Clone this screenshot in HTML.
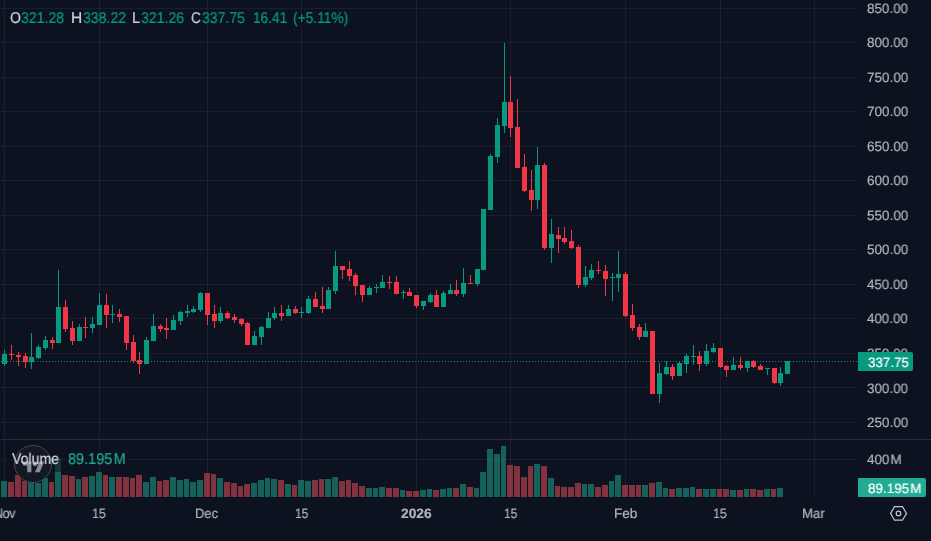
<!DOCTYPE html>
<html><head><meta charset="utf-8"><title>Chart</title>
<style>
html,body{margin:0;padding:0;background:#0d1220;}
body{width:931px;height:541px;overflow:hidden;position:relative;font-family:"Liberation Sans",sans-serif;color:#b2b5be;}
.t{position:absolute;white-space:nowrap;will-change:transform;text-rendering:geometricPrecision;transform-origin:0 0;-webkit-text-stroke:0.2px currentColor;}
</style></head><body>
<svg width="931" height="541" viewBox="0 0 931 541" shape-rendering="crispEdges" style="position:absolute;left:0;top:0">
<rect x="1" y="8" width="857" height="1" fill="rgb(240,243,250)" fill-opacity=".06"/>
<rect x="1" y="42" width="857" height="1" fill="rgb(240,243,250)" fill-opacity=".06"/>
<rect x="1" y="77" width="857" height="1" fill="rgb(240,243,250)" fill-opacity=".06"/>
<rect x="1" y="111" width="857" height="1" fill="rgb(240,243,250)" fill-opacity=".06"/>
<rect x="1" y="146" width="857" height="1" fill="rgb(240,243,250)" fill-opacity=".06"/>
<rect x="1" y="180" width="857" height="1" fill="rgb(240,243,250)" fill-opacity=".06"/>
<rect x="1" y="215" width="857" height="1" fill="rgb(240,243,250)" fill-opacity=".06"/>
<rect x="1" y="249" width="857" height="1" fill="rgb(240,243,250)" fill-opacity=".06"/>
<rect x="1" y="284" width="857" height="1" fill="rgb(240,243,250)" fill-opacity=".06"/>
<rect x="1" y="318" width="857" height="1" fill="rgb(240,243,250)" fill-opacity=".06"/>
<rect x="1" y="353" width="857" height="1" fill="rgb(240,243,250)" fill-opacity=".06"/>
<rect x="1" y="387" width="857" height="1" fill="rgb(240,243,250)" fill-opacity=".06"/>
<rect x="1" y="422" width="857" height="1" fill="rgb(240,243,250)" fill-opacity=".06"/>
<rect x="1" y="459" width="857" height="1" fill="rgb(240,243,250)" fill-opacity=".06"/>
<rect x="4" y="0" width="1" height="497" fill="rgb(240,243,250)" fill-opacity=".06"/>
<rect x="99" y="0" width="1" height="497" fill="rgb(240,243,250)" fill-opacity=".06"/>
<rect x="207" y="0" width="1" height="497" fill="rgb(240,243,250)" fill-opacity=".06"/>
<rect x="301" y="0" width="1" height="497" fill="rgb(240,243,250)" fill-opacity=".06"/>
<rect x="416" y="0" width="1" height="497" fill="rgb(240,243,250)" fill-opacity=".06"/>
<rect x="510" y="0" width="1" height="497" fill="rgb(240,243,250)" fill-opacity=".06"/>
<rect x="625" y="0" width="1" height="497" fill="rgb(240,243,250)" fill-opacity=".06"/>
<rect x="720" y="0" width="1" height="497" fill="rgb(240,243,250)" fill-opacity=".06"/>
<rect x="814" y="0" width="1" height="497" fill="rgb(240,243,250)" fill-opacity=".06"/>
<rect x="1" y="439" width="930" height="1" fill="#2a2e39"/>
<rect x="1" y="481" width="6" height="16" fill="rgb(31,163,137)" fill-opacity=".55"/>
<rect x="8" y="482" width="6" height="15" fill="rgb(228,76,88)" fill-opacity=".55"/>
<rect x="15" y="475" width="6" height="22" fill="rgb(228,76,88)" fill-opacity=".55"/>
<rect x="22" y="481" width="5" height="16" fill="rgb(228,76,88)" fill-opacity=".55"/>
<rect x="28" y="482" width="6" height="15" fill="rgb(31,163,137)" fill-opacity=".55"/>
<rect x="35" y="483" width="6" height="14" fill="rgb(31,163,137)" fill-opacity=".55"/>
<rect x="42" y="478" width="6" height="19" fill="rgb(31,163,137)" fill-opacity=".55"/>
<rect x="49" y="482" width="5" height="15" fill="rgb(228,76,88)" fill-opacity=".55"/>
<rect x="55" y="458" width="6" height="39" fill="rgb(31,163,137)" fill-opacity=".55"/>
<rect x="62" y="475" width="6" height="22" fill="rgb(228,76,88)" fill-opacity=".55"/>
<rect x="69" y="476" width="6" height="21" fill="rgb(228,76,88)" fill-opacity=".55"/>
<rect x="76" y="479" width="5" height="18" fill="rgb(31,163,137)" fill-opacity=".55"/>
<rect x="82" y="477" width="6" height="20" fill="rgb(228,76,88)" fill-opacity=".55"/>
<rect x="89" y="476" width="6" height="21" fill="rgb(31,163,137)" fill-opacity=".55"/>
<rect x="96" y="472" width="6" height="25" fill="rgb(31,163,137)" fill-opacity=".55"/>
<rect x="103" y="475" width="5" height="22" fill="rgb(228,76,88)" fill-opacity=".55"/>
<rect x="109" y="477" width="6" height="20" fill="rgb(31,163,137)" fill-opacity=".55"/>
<rect x="116" y="477" width="6" height="20" fill="rgb(228,76,88)" fill-opacity=".55"/>
<rect x="123" y="477" width="6" height="20" fill="rgb(228,76,88)" fill-opacity=".55"/>
<rect x="130" y="478" width="5" height="19" fill="rgb(228,76,88)" fill-opacity=".55"/>
<rect x="136" y="475" width="6" height="22" fill="rgb(228,76,88)" fill-opacity=".55"/>
<rect x="143" y="482" width="6" height="15" fill="rgb(31,163,137)" fill-opacity=".55"/>
<rect x="150" y="477" width="6" height="20" fill="rgb(31,163,137)" fill-opacity=".55"/>
<rect x="157" y="481" width="5" height="16" fill="rgb(228,76,88)" fill-opacity=".55"/>
<rect x="163" y="480" width="6" height="17" fill="rgb(228,76,88)" fill-opacity=".55"/>
<rect x="170" y="477" width="6" height="20" fill="rgb(31,163,137)" fill-opacity=".55"/>
<rect x="177" y="480" width="6" height="17" fill="rgb(31,163,137)" fill-opacity=".55"/>
<rect x="184" y="479" width="5" height="18" fill="rgb(31,163,137)" fill-opacity=".55"/>
<rect x="190" y="482" width="6" height="15" fill="rgb(31,163,137)" fill-opacity=".55"/>
<rect x="197" y="480" width="6" height="17" fill="rgb(31,163,137)" fill-opacity=".55"/>
<rect x="204" y="473" width="6" height="24" fill="rgb(228,76,88)" fill-opacity=".55"/>
<rect x="211" y="474" width="5" height="23" fill="rgb(228,76,88)" fill-opacity=".55"/>
<rect x="217" y="478" width="6" height="19" fill="rgb(31,163,137)" fill-opacity=".55"/>
<rect x="224" y="482" width="6" height="15" fill="rgb(228,76,88)" fill-opacity=".55"/>
<rect x="231" y="483" width="6" height="14" fill="rgb(228,76,88)" fill-opacity=".55"/>
<rect x="238" y="486" width="5" height="11" fill="rgb(228,76,88)" fill-opacity=".55"/>
<rect x="244" y="484" width="6" height="13" fill="rgb(228,76,88)" fill-opacity=".55"/>
<rect x="251" y="483" width="6" height="14" fill="rgb(31,163,137)" fill-opacity=".55"/>
<rect x="258" y="480" width="6" height="17" fill="rgb(31,163,137)" fill-opacity=".55"/>
<rect x="265" y="478" width="5" height="19" fill="rgb(31,163,137)" fill-opacity=".55"/>
<rect x="271" y="479" width="6" height="18" fill="rgb(31,163,137)" fill-opacity=".55"/>
<rect x="278" y="480" width="6" height="17" fill="rgb(228,76,88)" fill-opacity=".55"/>
<rect x="285" y="484" width="6" height="13" fill="rgb(31,163,137)" fill-opacity=".55"/>
<rect x="292" y="485" width="5" height="12" fill="rgb(228,76,88)" fill-opacity=".55"/>
<rect x="298" y="480" width="6" height="17" fill="rgb(31,163,137)" fill-opacity=".55"/>
<rect x="305" y="481" width="6" height="16" fill="rgb(31,163,137)" fill-opacity=".55"/>
<rect x="312" y="480" width="6" height="17" fill="rgb(228,76,88)" fill-opacity=".55"/>
<rect x="319" y="479" width="5" height="18" fill="rgb(228,76,88)" fill-opacity=".55"/>
<rect x="325" y="479" width="6" height="18" fill="rgb(31,163,137)" fill-opacity=".55"/>
<rect x="332" y="477" width="6" height="20" fill="rgb(31,163,137)" fill-opacity=".55"/>
<rect x="339" y="481" width="6" height="16" fill="rgb(228,76,88)" fill-opacity=".55"/>
<rect x="346" y="480" width="5" height="17" fill="rgb(228,76,88)" fill-opacity=".55"/>
<rect x="352" y="483" width="6" height="14" fill="rgb(228,76,88)" fill-opacity=".55"/>
<rect x="359" y="486" width="6" height="11" fill="rgb(228,76,88)" fill-opacity=".55"/>
<rect x="366" y="488" width="6" height="9" fill="rgb(31,163,137)" fill-opacity=".55"/>
<rect x="373" y="488" width="5" height="9" fill="rgb(31,163,137)" fill-opacity=".55"/>
<rect x="379" y="487" width="6" height="10" fill="rgb(31,163,137)" fill-opacity=".55"/>
<rect x="386" y="488" width="6" height="9" fill="rgb(228,76,88)" fill-opacity=".55"/>
<rect x="393" y="488" width="6" height="9" fill="rgb(228,76,88)" fill-opacity=".55"/>
<rect x="400" y="490" width="5" height="7" fill="rgb(31,163,137)" fill-opacity=".55"/>
<rect x="406" y="491" width="6" height="6" fill="rgb(228,76,88)" fill-opacity=".55"/>
<rect x="413" y="491" width="6" height="6" fill="rgb(228,76,88)" fill-opacity=".55"/>
<rect x="420" y="490" width="6" height="7" fill="rgb(31,163,137)" fill-opacity=".55"/>
<rect x="427" y="489" width="5" height="8" fill="rgb(31,163,137)" fill-opacity=".55"/>
<rect x="433" y="490" width="6" height="7" fill="rgb(228,76,88)" fill-opacity=".55"/>
<rect x="440" y="489" width="6" height="8" fill="rgb(31,163,137)" fill-opacity=".55"/>
<rect x="447" y="488" width="5" height="9" fill="rgb(31,163,137)" fill-opacity=".55"/>
<rect x="453" y="488" width="6" height="9" fill="rgb(228,76,88)" fill-opacity=".55"/>
<rect x="460" y="484" width="6" height="13" fill="rgb(31,163,137)" fill-opacity=".55"/>
<rect x="467" y="487" width="6" height="10" fill="rgb(228,76,88)" fill-opacity=".55"/>
<rect x="474" y="488" width="5" height="9" fill="rgb(31,163,137)" fill-opacity=".55"/>
<rect x="480" y="472" width="6" height="25" fill="rgb(31,163,137)" fill-opacity=".55"/>
<rect x="487" y="449" width="6" height="48" fill="rgb(31,163,137)" fill-opacity=".55"/>
<rect x="494" y="454" width="6" height="43" fill="rgb(31,163,137)" fill-opacity=".55"/>
<rect x="501" y="446" width="5" height="51" fill="rgb(31,163,137)" fill-opacity=".55"/>
<rect x="507" y="465" width="6" height="32" fill="rgb(228,76,88)" fill-opacity=".55"/>
<rect x="514" y="466" width="6" height="31" fill="rgb(228,76,88)" fill-opacity=".55"/>
<rect x="521" y="477" width="6" height="20" fill="rgb(228,76,88)" fill-opacity=".55"/>
<rect x="528" y="466" width="5" height="31" fill="rgb(228,76,88)" fill-opacity=".55"/>
<rect x="534" y="464" width="6" height="33" fill="rgb(31,163,137)" fill-opacity=".55"/>
<rect x="541" y="466" width="6" height="31" fill="rgb(228,76,88)" fill-opacity=".55"/>
<rect x="548" y="478" width="6" height="19" fill="rgb(31,163,137)" fill-opacity=".55"/>
<rect x="555" y="486" width="5" height="11" fill="rgb(228,76,88)" fill-opacity=".55"/>
<rect x="561" y="487" width="6" height="10" fill="rgb(228,76,88)" fill-opacity=".55"/>
<rect x="568" y="487" width="6" height="10" fill="rgb(228,76,88)" fill-opacity=".55"/>
<rect x="575" y="483" width="6" height="14" fill="rgb(228,76,88)" fill-opacity=".55"/>
<rect x="582" y="484" width="5" height="13" fill="rgb(31,163,137)" fill-opacity=".55"/>
<rect x="588" y="484" width="6" height="13" fill="rgb(31,163,137)" fill-opacity=".55"/>
<rect x="595" y="487" width="6" height="10" fill="rgb(228,76,88)" fill-opacity=".55"/>
<rect x="602" y="485" width="6" height="12" fill="rgb(228,76,88)" fill-opacity=".55"/>
<rect x="609" y="481" width="5" height="16" fill="rgb(31,163,137)" fill-opacity=".55"/>
<rect x="615" y="475" width="6" height="22" fill="rgb(31,163,137)" fill-opacity=".55"/>
<rect x="622" y="485" width="6" height="12" fill="rgb(228,76,88)" fill-opacity=".55"/>
<rect x="629" y="485" width="6" height="12" fill="rgb(228,76,88)" fill-opacity=".55"/>
<rect x="636" y="485" width="5" height="12" fill="rgb(228,76,88)" fill-opacity=".55"/>
<rect x="642" y="485" width="6" height="12" fill="rgb(31,163,137)" fill-opacity=".55"/>
<rect x="649" y="483" width="6" height="14" fill="rgb(228,76,88)" fill-opacity=".55"/>
<rect x="656" y="482" width="6" height="15" fill="rgb(31,163,137)" fill-opacity=".55"/>
<rect x="663" y="488" width="5" height="9" fill="rgb(31,163,137)" fill-opacity=".55"/>
<rect x="669" y="489" width="6" height="8" fill="rgb(228,76,88)" fill-opacity=".55"/>
<rect x="676" y="488" width="6" height="9" fill="rgb(31,163,137)" fill-opacity=".55"/>
<rect x="683" y="488" width="6" height="9" fill="rgb(31,163,137)" fill-opacity=".55"/>
<rect x="690" y="487" width="5" height="10" fill="rgb(31,163,137)" fill-opacity=".55"/>
<rect x="696" y="489" width="6" height="8" fill="rgb(228,76,88)" fill-opacity=".55"/>
<rect x="703" y="489" width="6" height="8" fill="rgb(31,163,137)" fill-opacity=".55"/>
<rect x="710" y="489" width="6" height="8" fill="rgb(31,163,137)" fill-opacity=".55"/>
<rect x="717" y="489" width="5" height="8" fill="rgb(228,76,88)" fill-opacity=".55"/>
<rect x="723" y="489" width="6" height="8" fill="rgb(228,76,88)" fill-opacity=".55"/>
<rect x="730" y="490" width="6" height="7" fill="rgb(31,163,137)" fill-opacity=".55"/>
<rect x="737" y="490" width="6" height="7" fill="rgb(228,76,88)" fill-opacity=".55"/>
<rect x="744" y="489" width="5" height="8" fill="rgb(31,163,137)" fill-opacity=".55"/>
<rect x="750" y="489" width="6" height="8" fill="rgb(228,76,88)" fill-opacity=".55"/>
<rect x="757" y="490" width="6" height="7" fill="rgb(228,76,88)" fill-opacity=".55"/>
<rect x="764" y="489" width="6" height="8" fill="rgb(31,163,137)" fill-opacity=".55"/>
<rect x="771" y="489" width="5" height="8" fill="rgb(228,76,88)" fill-opacity=".55"/>
<rect x="777" y="488" width="6" height="9" fill="rgb(31,163,137)" fill-opacity=".55"/>
<rect x="6" y="447" width="56" height="25" fill="#0d1220" fill-opacity="0.55"/>
<rect x="66" y="450" width="62" height="15" fill="#0d1220" fill-opacity="0.55"/>
<rect x="4" y="350" width="1" height="16" fill="#089981"/>
<rect x="2" y="354" width="5" height="10" fill="#089981"/>
<rect x="11" y="345" width="1" height="15" fill="#f23645"/>
<rect x="9" y="354" width="5" height="1" fill="#f23645"/>
<rect x="18" y="352" width="1" height="14" fill="#f23645"/>
<rect x="16" y="355" width="5" height="2" fill="#f23645"/>
<rect x="25" y="353" width="1" height="15" fill="#f23645"/>
<rect x="23" y="356" width="5" height="6" fill="#f23645"/>
<rect x="31" y="333" width="1" height="36" fill="#089981"/>
<rect x="29" y="357" width="5" height="5" fill="#089981"/>
<rect x="38" y="345" width="1" height="14" fill="#089981"/>
<rect x="36" y="347" width="5" height="11" fill="#089981"/>
<rect x="45" y="336" width="1" height="14" fill="#089981"/>
<rect x="43" y="340" width="5" height="8" fill="#089981"/>
<rect x="52" y="337" width="1" height="12" fill="#f23645"/>
<rect x="50" y="340" width="5" height="3" fill="#f23645"/>
<rect x="58" y="270" width="1" height="73" fill="#089981"/>
<rect x="56" y="307" width="5" height="36" fill="#089981"/>
<rect x="65" y="300" width="1" height="32" fill="#f23645"/>
<rect x="63" y="307" width="5" height="22" fill="#f23645"/>
<rect x="72" y="321" width="1" height="24" fill="#f23645"/>
<rect x="70" y="328" width="5" height="13" fill="#f23645"/>
<rect x="79" y="324" width="1" height="17" fill="#089981"/>
<rect x="77" y="327" width="5" height="14" fill="#089981"/>
<rect x="85" y="317" width="1" height="21" fill="#f23645"/>
<rect x="83" y="327" width="5" height="1" fill="#f23645"/>
<rect x="92" y="317" width="1" height="16" fill="#089981"/>
<rect x="90" y="324" width="5" height="4" fill="#089981"/>
<rect x="99" y="293" width="1" height="32" fill="#089981"/>
<rect x="97" y="305" width="5" height="20" fill="#089981"/>
<rect x="106" y="294" width="1" height="34" fill="#f23645"/>
<rect x="104" y="305" width="5" height="10" fill="#f23645"/>
<rect x="112" y="305" width="1" height="18" fill="#089981"/>
<rect x="110" y="314" width="5" height="1" fill="#089981"/>
<rect x="119" y="309" width="1" height="13" fill="#f23645"/>
<rect x="117" y="314" width="5" height="3" fill="#f23645"/>
<rect x="126" y="316" width="1" height="34" fill="#f23645"/>
<rect x="124" y="316" width="5" height="27" fill="#f23645"/>
<rect x="133" y="335" width="1" height="28" fill="#f23645"/>
<rect x="131" y="342" width="5" height="19" fill="#f23645"/>
<rect x="139" y="352" width="1" height="22" fill="#f23645"/>
<rect x="137" y="360" width="5" height="4" fill="#f23645"/>
<rect x="146" y="337" width="1" height="27" fill="#089981"/>
<rect x="144" y="340" width="5" height="24" fill="#089981"/>
<rect x="153" y="314" width="1" height="27" fill="#089981"/>
<rect x="151" y="326" width="5" height="15" fill="#089981"/>
<rect x="160" y="324" width="1" height="8" fill="#f23645"/>
<rect x="158" y="326" width="5" height="3" fill="#f23645"/>
<rect x="166" y="318" width="1" height="21" fill="#f23645"/>
<rect x="164" y="328" width="5" height="2" fill="#f23645"/>
<rect x="173" y="315" width="1" height="15" fill="#089981"/>
<rect x="171" y="320" width="5" height="10" fill="#089981"/>
<rect x="180" y="311" width="1" height="14" fill="#089981"/>
<rect x="178" y="312" width="5" height="9" fill="#089981"/>
<rect x="187" y="305" width="1" height="12" fill="#089981"/>
<rect x="185" y="311" width="5" height="2" fill="#089981"/>
<rect x="193" y="306" width="1" height="7" fill="#089981"/>
<rect x="191" y="309" width="5" height="3" fill="#089981"/>
<rect x="200" y="292" width="1" height="20" fill="#089981"/>
<rect x="198" y="293" width="5" height="17" fill="#089981"/>
<rect x="207" y="293" width="1" height="32" fill="#f23645"/>
<rect x="205" y="293" width="5" height="22" fill="#f23645"/>
<rect x="214" y="305" width="1" height="23" fill="#f23645"/>
<rect x="212" y="314" width="5" height="7" fill="#f23645"/>
<rect x="220" y="307" width="1" height="16" fill="#089981"/>
<rect x="218" y="313" width="5" height="8" fill="#089981"/>
<rect x="227" y="311" width="1" height="8" fill="#f23645"/>
<rect x="225" y="313" width="5" height="5" fill="#f23645"/>
<rect x="234" y="314" width="1" height="9" fill="#f23645"/>
<rect x="232" y="317" width="5" height="3" fill="#f23645"/>
<rect x="241" y="318" width="1" height="8" fill="#f23645"/>
<rect x="239" y="319" width="5" height="5" fill="#f23645"/>
<rect x="247" y="322" width="1" height="23" fill="#f23645"/>
<rect x="245" y="323" width="5" height="22" fill="#f23645"/>
<rect x="254" y="331" width="1" height="14" fill="#089981"/>
<rect x="252" y="336" width="5" height="9" fill="#089981"/>
<rect x="261" y="326" width="1" height="19" fill="#089981"/>
<rect x="259" y="327" width="5" height="10" fill="#089981"/>
<rect x="268" y="312" width="1" height="16" fill="#089981"/>
<rect x="266" y="318" width="5" height="10" fill="#089981"/>
<rect x="274" y="307" width="1" height="13" fill="#089981"/>
<rect x="272" y="313" width="5" height="5" fill="#089981"/>
<rect x="281" y="305" width="1" height="16" fill="#f23645"/>
<rect x="279" y="313" width="5" height="3" fill="#f23645"/>
<rect x="288" y="305" width="1" height="11" fill="#089981"/>
<rect x="286" y="309" width="5" height="7" fill="#089981"/>
<rect x="295" y="306" width="1" height="8" fill="#f23645"/>
<rect x="293" y="309" width="5" height="4" fill="#f23645"/>
<rect x="301" y="307" width="1" height="11" fill="#089981"/>
<rect x="299" y="312" width="5" height="1" fill="#089981"/>
<rect x="308" y="296" width="1" height="18" fill="#089981"/>
<rect x="306" y="299" width="5" height="14" fill="#089981"/>
<rect x="315" y="292" width="1" height="15" fill="#f23645"/>
<rect x="313" y="299" width="5" height="8" fill="#f23645"/>
<rect x="322" y="287" width="1" height="26" fill="#f23645"/>
<rect x="320" y="306" width="5" height="3" fill="#f23645"/>
<rect x="328" y="287" width="1" height="22" fill="#089981"/>
<rect x="326" y="290" width="5" height="19" fill="#089981"/>
<rect x="335" y="251" width="1" height="43" fill="#089981"/>
<rect x="333" y="266" width="5" height="25" fill="#089981"/>
<rect x="342" y="266" width="1" height="13" fill="#f23645"/>
<rect x="340" y="266" width="5" height="4" fill="#f23645"/>
<rect x="349" y="261" width="1" height="20" fill="#f23645"/>
<rect x="347" y="269" width="5" height="7" fill="#f23645"/>
<rect x="355" y="273" width="1" height="22" fill="#f23645"/>
<rect x="353" y="275" width="5" height="11" fill="#f23645"/>
<rect x="362" y="285" width="1" height="17" fill="#f23645"/>
<rect x="360" y="285" width="5" height="10" fill="#f23645"/>
<rect x="369" y="286" width="1" height="9" fill="#089981"/>
<rect x="367" y="288" width="5" height="7" fill="#089981"/>
<rect x="376" y="284" width="1" height="9" fill="#089981"/>
<rect x="374" y="287" width="5" height="1" fill="#089981"/>
<rect x="382" y="275" width="1" height="13" fill="#089981"/>
<rect x="380" y="282" width="5" height="6" fill="#089981"/>
<rect x="389" y="276" width="1" height="13" fill="#f23645"/>
<rect x="387" y="282" width="5" height="1" fill="#f23645"/>
<rect x="396" y="276" width="1" height="18" fill="#f23645"/>
<rect x="394" y="282" width="5" height="12" fill="#f23645"/>
<rect x="403" y="290" width="1" height="9" fill="#089981"/>
<rect x="401" y="292" width="5" height="1" fill="#089981"/>
<rect x="409" y="288" width="1" height="8" fill="#f23645"/>
<rect x="407" y="292" width="5" height="4" fill="#f23645"/>
<rect x="416" y="295" width="1" height="13" fill="#f23645"/>
<rect x="414" y="295" width="5" height="11" fill="#f23645"/>
<rect x="423" y="301" width="1" height="9" fill="#089981"/>
<rect x="421" y="301" width="5" height="5" fill="#089981"/>
<rect x="430" y="293" width="1" height="10" fill="#089981"/>
<rect x="428" y="295" width="5" height="7" fill="#089981"/>
<rect x="436" y="290" width="1" height="17" fill="#f23645"/>
<rect x="434" y="295" width="5" height="12" fill="#f23645"/>
<rect x="443" y="291" width="1" height="16" fill="#089981"/>
<rect x="441" y="293" width="5" height="14" fill="#089981"/>
<rect x="450" y="284" width="1" height="10" fill="#089981"/>
<rect x="448" y="290" width="5" height="4" fill="#089981"/>
<rect x="456" y="280" width="1" height="16" fill="#f23645"/>
<rect x="454" y="290" width="5" height="4" fill="#f23645"/>
<rect x="463" y="268" width="1" height="29" fill="#089981"/>
<rect x="461" y="283" width="5" height="11" fill="#089981"/>
<rect x="470" y="275" width="1" height="9" fill="#f23645"/>
<rect x="468" y="283" width="5" height="1" fill="#f23645"/>
<rect x="477" y="269" width="1" height="17" fill="#089981"/>
<rect x="475" y="269" width="5" height="15" fill="#089981"/>
<rect x="483" y="209" width="1" height="61" fill="#089981"/>
<rect x="481" y="209" width="5" height="61" fill="#089981"/>
<rect x="490" y="154" width="1" height="56" fill="#089981"/>
<rect x="488" y="156" width="5" height="54" fill="#089981"/>
<rect x="497" y="118" width="1" height="45" fill="#089981"/>
<rect x="495" y="125" width="5" height="32" fill="#089981"/>
<rect x="504" y="43" width="1" height="90" fill="#089981"/>
<rect x="502" y="102" width="5" height="24" fill="#089981"/>
<rect x="510" y="76" width="1" height="61" fill="#f23645"/>
<rect x="508" y="102" width="5" height="26" fill="#f23645"/>
<rect x="517" y="99" width="1" height="69" fill="#f23645"/>
<rect x="515" y="127" width="5" height="41" fill="#f23645"/>
<rect x="524" y="154" width="1" height="38" fill="#f23645"/>
<rect x="522" y="167" width="5" height="24" fill="#f23645"/>
<rect x="531" y="170" width="1" height="41" fill="#f23645"/>
<rect x="529" y="190" width="5" height="10" fill="#f23645"/>
<rect x="537" y="147" width="1" height="62" fill="#089981"/>
<rect x="535" y="165" width="5" height="35" fill="#089981"/>
<rect x="544" y="163" width="1" height="87" fill="#f23645"/>
<rect x="542" y="165" width="5" height="83" fill="#f23645"/>
<rect x="551" y="219" width="1" height="44" fill="#089981"/>
<rect x="549" y="234" width="5" height="14" fill="#089981"/>
<rect x="558" y="227" width="1" height="26" fill="#f23645"/>
<rect x="556" y="235" width="5" height="4" fill="#f23645"/>
<rect x="564" y="227" width="1" height="17" fill="#f23645"/>
<rect x="562" y="238" width="5" height="4" fill="#f23645"/>
<rect x="571" y="230" width="1" height="19" fill="#f23645"/>
<rect x="569" y="241" width="5" height="7" fill="#f23645"/>
<rect x="578" y="245" width="1" height="43" fill="#f23645"/>
<rect x="576" y="247" width="5" height="38" fill="#f23645"/>
<rect x="585" y="266" width="1" height="21" fill="#089981"/>
<rect x="583" y="277" width="5" height="8" fill="#089981"/>
<rect x="591" y="264" width="1" height="16" fill="#089981"/>
<rect x="589" y="270" width="5" height="8" fill="#089981"/>
<rect x="598" y="261" width="1" height="13" fill="#f23645"/>
<rect x="596" y="270" width="5" height="1" fill="#f23645"/>
<rect x="605" y="265" width="1" height="31" fill="#f23645"/>
<rect x="603" y="271" width="5" height="8" fill="#f23645"/>
<rect x="612" y="273" width="1" height="28" fill="#089981"/>
<rect x="610" y="277" width="5" height="1" fill="#089981"/>
<rect x="618" y="251" width="1" height="41" fill="#089981"/>
<rect x="616" y="274" width="5" height="4" fill="#089981"/>
<rect x="625" y="272" width="1" height="45" fill="#f23645"/>
<rect x="623" y="274" width="5" height="42" fill="#f23645"/>
<rect x="632" y="304" width="1" height="27" fill="#f23645"/>
<rect x="630" y="315" width="5" height="13" fill="#f23645"/>
<rect x="639" y="324" width="1" height="16" fill="#f23645"/>
<rect x="637" y="327" width="5" height="10" fill="#f23645"/>
<rect x="645" y="323" width="1" height="14" fill="#089981"/>
<rect x="643" y="331" width="5" height="6" fill="#089981"/>
<rect x="652" y="331" width="1" height="63" fill="#f23645"/>
<rect x="650" y="331" width="5" height="63" fill="#f23645"/>
<rect x="659" y="363" width="1" height="40" fill="#089981"/>
<rect x="657" y="373" width="5" height="21" fill="#089981"/>
<rect x="666" y="361" width="1" height="14" fill="#089981"/>
<rect x="664" y="367" width="5" height="7" fill="#089981"/>
<rect x="672" y="364" width="1" height="16" fill="#f23645"/>
<rect x="670" y="367" width="5" height="9" fill="#f23645"/>
<rect x="679" y="362" width="1" height="14" fill="#089981"/>
<rect x="677" y="363" width="5" height="13" fill="#089981"/>
<rect x="686" y="354" width="1" height="19" fill="#089981"/>
<rect x="684" y="356" width="5" height="8" fill="#089981"/>
<rect x="693" y="345" width="1" height="20" fill="#089981"/>
<rect x="691" y="356" width="5" height="1" fill="#089981"/>
<rect x="699" y="351" width="1" height="20" fill="#f23645"/>
<rect x="697" y="356" width="5" height="8" fill="#f23645"/>
<rect x="706" y="344" width="1" height="22" fill="#089981"/>
<rect x="704" y="351" width="5" height="13" fill="#089981"/>
<rect x="713" y="343" width="1" height="10" fill="#089981"/>
<rect x="711" y="348" width="5" height="4" fill="#089981"/>
<rect x="720" y="348" width="1" height="20" fill="#f23645"/>
<rect x="718" y="348" width="5" height="19" fill="#f23645"/>
<rect x="726" y="365" width="1" height="12" fill="#f23645"/>
<rect x="724" y="366" width="5" height="4" fill="#f23645"/>
<rect x="733" y="357" width="1" height="13" fill="#089981"/>
<rect x="731" y="365" width="5" height="5" fill="#089981"/>
<rect x="740" y="357" width="1" height="13" fill="#f23645"/>
<rect x="738" y="365" width="5" height="3" fill="#f23645"/>
<rect x="747" y="361" width="1" height="11" fill="#089981"/>
<rect x="745" y="361" width="5" height="7" fill="#089981"/>
<rect x="753" y="360" width="1" height="8" fill="#f23645"/>
<rect x="751" y="361" width="5" height="6" fill="#f23645"/>
<rect x="760" y="364" width="1" height="6" fill="#f23645"/>
<rect x="758" y="366" width="5" height="4" fill="#f23645"/>
<rect x="767" y="368" width="1" height="7" fill="#089981"/>
<rect x="765" y="368" width="5" height="1" fill="#089981"/>
<rect x="774" y="368" width="1" height="16" fill="#f23645"/>
<rect x="772" y="368" width="5" height="15" fill="#f23645"/>
<rect x="780" y="367" width="1" height="19" fill="#089981"/>
<rect x="778" y="373" width="5" height="10" fill="#089981"/>
<rect x="787" y="361" width="1" height="13" fill="#089981"/>
<rect x="785" y="361" width="5" height="13" fill="#089981"/>
<g fill="#089981">
<rect x="1" y="361" width="1" height="1"/>
<rect x="4" y="361" width="1" height="1"/>
<rect x="7" y="361" width="1" height="1"/>
<rect x="10" y="361" width="1" height="1"/>
<rect x="13" y="361" width="1" height="1"/>
<rect x="16" y="361" width="1" height="1"/>
<rect x="19" y="361" width="1" height="1"/>
<rect x="22" y="361" width="1" height="1"/>
<rect x="25" y="361" width="1" height="1"/>
<rect x="28" y="361" width="1" height="1"/>
<rect x="31" y="361" width="1" height="1"/>
<rect x="34" y="361" width="1" height="1"/>
<rect x="37" y="361" width="1" height="1"/>
<rect x="40" y="361" width="1" height="1"/>
<rect x="43" y="361" width="1" height="1"/>
<rect x="46" y="361" width="1" height="1"/>
<rect x="49" y="361" width="1" height="1"/>
<rect x="52" y="361" width="1" height="1"/>
<rect x="55" y="361" width="1" height="1"/>
<rect x="58" y="361" width="1" height="1"/>
<rect x="61" y="361" width="1" height="1"/>
<rect x="64" y="361" width="1" height="1"/>
<rect x="67" y="361" width="1" height="1"/>
<rect x="70" y="361" width="1" height="1"/>
<rect x="73" y="361" width="1" height="1"/>
<rect x="76" y="361" width="1" height="1"/>
<rect x="79" y="361" width="1" height="1"/>
<rect x="82" y="361" width="1" height="1"/>
<rect x="85" y="361" width="1" height="1"/>
<rect x="88" y="361" width="1" height="1"/>
<rect x="91" y="361" width="1" height="1"/>
<rect x="94" y="361" width="1" height="1"/>
<rect x="97" y="361" width="1" height="1"/>
<rect x="100" y="361" width="1" height="1"/>
<rect x="103" y="361" width="1" height="1"/>
<rect x="106" y="361" width="1" height="1"/>
<rect x="109" y="361" width="1" height="1"/>
<rect x="112" y="361" width="1" height="1"/>
<rect x="115" y="361" width="1" height="1"/>
<rect x="118" y="361" width="1" height="1"/>
<rect x="121" y="361" width="1" height="1"/>
<rect x="124" y="361" width="1" height="1"/>
<rect x="127" y="361" width="1" height="1"/>
<rect x="130" y="361" width="1" height="1"/>
<rect x="133" y="361" width="1" height="1"/>
<rect x="136" y="361" width="1" height="1"/>
<rect x="139" y="361" width="1" height="1"/>
<rect x="142" y="361" width="1" height="1"/>
<rect x="145" y="361" width="1" height="1"/>
<rect x="148" y="361" width="1" height="1"/>
<rect x="151" y="361" width="1" height="1"/>
<rect x="154" y="361" width="1" height="1"/>
<rect x="157" y="361" width="1" height="1"/>
<rect x="160" y="361" width="1" height="1"/>
<rect x="163" y="361" width="1" height="1"/>
<rect x="166" y="361" width="1" height="1"/>
<rect x="169" y="361" width="1" height="1"/>
<rect x="172" y="361" width="1" height="1"/>
<rect x="175" y="361" width="1" height="1"/>
<rect x="178" y="361" width="1" height="1"/>
<rect x="181" y="361" width="1" height="1"/>
<rect x="184" y="361" width="1" height="1"/>
<rect x="187" y="361" width="1" height="1"/>
<rect x="190" y="361" width="1" height="1"/>
<rect x="193" y="361" width="1" height="1"/>
<rect x="196" y="361" width="1" height="1"/>
<rect x="199" y="361" width="1" height="1"/>
<rect x="202" y="361" width="1" height="1"/>
<rect x="205" y="361" width="1" height="1"/>
<rect x="208" y="361" width="1" height="1"/>
<rect x="211" y="361" width="1" height="1"/>
<rect x="214" y="361" width="1" height="1"/>
<rect x="217" y="361" width="1" height="1"/>
<rect x="220" y="361" width="1" height="1"/>
<rect x="223" y="361" width="1" height="1"/>
<rect x="226" y="361" width="1" height="1"/>
<rect x="229" y="361" width="1" height="1"/>
<rect x="232" y="361" width="1" height="1"/>
<rect x="235" y="361" width="1" height="1"/>
<rect x="238" y="361" width="1" height="1"/>
<rect x="241" y="361" width="1" height="1"/>
<rect x="244" y="361" width="1" height="1"/>
<rect x="247" y="361" width="1" height="1"/>
<rect x="250" y="361" width="1" height="1"/>
<rect x="253" y="361" width="1" height="1"/>
<rect x="256" y="361" width="1" height="1"/>
<rect x="259" y="361" width="1" height="1"/>
<rect x="262" y="361" width="1" height="1"/>
<rect x="265" y="361" width="1" height="1"/>
<rect x="268" y="361" width="1" height="1"/>
<rect x="271" y="361" width="1" height="1"/>
<rect x="274" y="361" width="1" height="1"/>
<rect x="277" y="361" width="1" height="1"/>
<rect x="280" y="361" width="1" height="1"/>
<rect x="283" y="361" width="1" height="1"/>
<rect x="286" y="361" width="1" height="1"/>
<rect x="289" y="361" width="1" height="1"/>
<rect x="292" y="361" width="1" height="1"/>
<rect x="295" y="361" width="1" height="1"/>
<rect x="298" y="361" width="1" height="1"/>
<rect x="301" y="361" width="1" height="1"/>
<rect x="304" y="361" width="1" height="1"/>
<rect x="307" y="361" width="1" height="1"/>
<rect x="310" y="361" width="1" height="1"/>
<rect x="313" y="361" width="1" height="1"/>
<rect x="316" y="361" width="1" height="1"/>
<rect x="319" y="361" width="1" height="1"/>
<rect x="322" y="361" width="1" height="1"/>
<rect x="325" y="361" width="1" height="1"/>
<rect x="328" y="361" width="1" height="1"/>
<rect x="331" y="361" width="1" height="1"/>
<rect x="334" y="361" width="1" height="1"/>
<rect x="337" y="361" width="1" height="1"/>
<rect x="340" y="361" width="1" height="1"/>
<rect x="343" y="361" width="1" height="1"/>
<rect x="346" y="361" width="1" height="1"/>
<rect x="349" y="361" width="1" height="1"/>
<rect x="352" y="361" width="1" height="1"/>
<rect x="355" y="361" width="1" height="1"/>
<rect x="358" y="361" width="1" height="1"/>
<rect x="361" y="361" width="1" height="1"/>
<rect x="364" y="361" width="1" height="1"/>
<rect x="367" y="361" width="1" height="1"/>
<rect x="370" y="361" width="1" height="1"/>
<rect x="373" y="361" width="1" height="1"/>
<rect x="376" y="361" width="1" height="1"/>
<rect x="379" y="361" width="1" height="1"/>
<rect x="382" y="361" width="1" height="1"/>
<rect x="385" y="361" width="1" height="1"/>
<rect x="388" y="361" width="1" height="1"/>
<rect x="391" y="361" width="1" height="1"/>
<rect x="394" y="361" width="1" height="1"/>
<rect x="397" y="361" width="1" height="1"/>
<rect x="400" y="361" width="1" height="1"/>
<rect x="403" y="361" width="1" height="1"/>
<rect x="406" y="361" width="1" height="1"/>
<rect x="409" y="361" width="1" height="1"/>
<rect x="412" y="361" width="1" height="1"/>
<rect x="415" y="361" width="1" height="1"/>
<rect x="418" y="361" width="1" height="1"/>
<rect x="421" y="361" width="1" height="1"/>
<rect x="424" y="361" width="1" height="1"/>
<rect x="427" y="361" width="1" height="1"/>
<rect x="430" y="361" width="1" height="1"/>
<rect x="433" y="361" width="1" height="1"/>
<rect x="436" y="361" width="1" height="1"/>
<rect x="439" y="361" width="1" height="1"/>
<rect x="442" y="361" width="1" height="1"/>
<rect x="445" y="361" width="1" height="1"/>
<rect x="448" y="361" width="1" height="1"/>
<rect x="451" y="361" width="1" height="1"/>
<rect x="454" y="361" width="1" height="1"/>
<rect x="457" y="361" width="1" height="1"/>
<rect x="460" y="361" width="1" height="1"/>
<rect x="463" y="361" width="1" height="1"/>
<rect x="466" y="361" width="1" height="1"/>
<rect x="469" y="361" width="1" height="1"/>
<rect x="472" y="361" width="1" height="1"/>
<rect x="475" y="361" width="1" height="1"/>
<rect x="478" y="361" width="1" height="1"/>
<rect x="481" y="361" width="1" height="1"/>
<rect x="484" y="361" width="1" height="1"/>
<rect x="487" y="361" width="1" height="1"/>
<rect x="490" y="361" width="1" height="1"/>
<rect x="493" y="361" width="1" height="1"/>
<rect x="496" y="361" width="1" height="1"/>
<rect x="499" y="361" width="1" height="1"/>
<rect x="502" y="361" width="1" height="1"/>
<rect x="505" y="361" width="1" height="1"/>
<rect x="508" y="361" width="1" height="1"/>
<rect x="511" y="361" width="1" height="1"/>
<rect x="514" y="361" width="1" height="1"/>
<rect x="517" y="361" width="1" height="1"/>
<rect x="520" y="361" width="1" height="1"/>
<rect x="523" y="361" width="1" height="1"/>
<rect x="526" y="361" width="1" height="1"/>
<rect x="529" y="361" width="1" height="1"/>
<rect x="532" y="361" width="1" height="1"/>
<rect x="535" y="361" width="1" height="1"/>
<rect x="538" y="361" width="1" height="1"/>
<rect x="541" y="361" width="1" height="1"/>
<rect x="544" y="361" width="1" height="1"/>
<rect x="547" y="361" width="1" height="1"/>
<rect x="550" y="361" width="1" height="1"/>
<rect x="553" y="361" width="1" height="1"/>
<rect x="556" y="361" width="1" height="1"/>
<rect x="559" y="361" width="1" height="1"/>
<rect x="562" y="361" width="1" height="1"/>
<rect x="565" y="361" width="1" height="1"/>
<rect x="568" y="361" width="1" height="1"/>
<rect x="571" y="361" width="1" height="1"/>
<rect x="574" y="361" width="1" height="1"/>
<rect x="577" y="361" width="1" height="1"/>
<rect x="580" y="361" width="1" height="1"/>
<rect x="583" y="361" width="1" height="1"/>
<rect x="586" y="361" width="1" height="1"/>
<rect x="589" y="361" width="1" height="1"/>
<rect x="592" y="361" width="1" height="1"/>
<rect x="595" y="361" width="1" height="1"/>
<rect x="598" y="361" width="1" height="1"/>
<rect x="601" y="361" width="1" height="1"/>
<rect x="604" y="361" width="1" height="1"/>
<rect x="607" y="361" width="1" height="1"/>
<rect x="610" y="361" width="1" height="1"/>
<rect x="613" y="361" width="1" height="1"/>
<rect x="616" y="361" width="1" height="1"/>
<rect x="619" y="361" width="1" height="1"/>
<rect x="622" y="361" width="1" height="1"/>
<rect x="625" y="361" width="1" height="1"/>
<rect x="628" y="361" width="1" height="1"/>
<rect x="631" y="361" width="1" height="1"/>
<rect x="634" y="361" width="1" height="1"/>
<rect x="637" y="361" width="1" height="1"/>
<rect x="640" y="361" width="1" height="1"/>
<rect x="643" y="361" width="1" height="1"/>
<rect x="646" y="361" width="1" height="1"/>
<rect x="649" y="361" width="1" height="1"/>
<rect x="652" y="361" width="1" height="1"/>
<rect x="655" y="361" width="1" height="1"/>
<rect x="658" y="361" width="1" height="1"/>
<rect x="661" y="361" width="1" height="1"/>
<rect x="664" y="361" width="1" height="1"/>
<rect x="667" y="361" width="1" height="1"/>
<rect x="670" y="361" width="1" height="1"/>
<rect x="673" y="361" width="1" height="1"/>
<rect x="676" y="361" width="1" height="1"/>
<rect x="679" y="361" width="1" height="1"/>
<rect x="682" y="361" width="1" height="1"/>
<rect x="685" y="361" width="1" height="1"/>
<rect x="688" y="361" width="1" height="1"/>
<rect x="691" y="361" width="1" height="1"/>
<rect x="694" y="361" width="1" height="1"/>
<rect x="697" y="361" width="1" height="1"/>
<rect x="700" y="361" width="1" height="1"/>
<rect x="703" y="361" width="1" height="1"/>
<rect x="706" y="361" width="1" height="1"/>
<rect x="709" y="361" width="1" height="1"/>
<rect x="712" y="361" width="1" height="1"/>
<rect x="715" y="361" width="1" height="1"/>
<rect x="718" y="361" width="1" height="1"/>
<rect x="721" y="361" width="1" height="1"/>
<rect x="724" y="361" width="1" height="1"/>
<rect x="727" y="361" width="1" height="1"/>
<rect x="730" y="361" width="1" height="1"/>
<rect x="733" y="361" width="1" height="1"/>
<rect x="736" y="361" width="1" height="1"/>
<rect x="739" y="361" width="1" height="1"/>
<rect x="742" y="361" width="1" height="1"/>
<rect x="745" y="361" width="1" height="1"/>
<rect x="748" y="361" width="1" height="1"/>
<rect x="751" y="361" width="1" height="1"/>
<rect x="754" y="361" width="1" height="1"/>
<rect x="757" y="361" width="1" height="1"/>
<rect x="760" y="361" width="1" height="1"/>
<rect x="763" y="361" width="1" height="1"/>
<rect x="766" y="361" width="1" height="1"/>
<rect x="769" y="361" width="1" height="1"/>
<rect x="772" y="361" width="1" height="1"/>
<rect x="775" y="361" width="1" height="1"/>
<rect x="778" y="361" width="1" height="1"/>
<rect x="781" y="361" width="1" height="1"/>
<rect x="784" y="361" width="1" height="1"/>
<rect x="787" y="361" width="1" height="1"/>
<rect x="790" y="361" width="1" height="1"/>
<rect x="793" y="361" width="1" height="1"/>
<rect x="796" y="361" width="1" height="1"/>
<rect x="799" y="361" width="1" height="1"/>
<rect x="802" y="361" width="1" height="1"/>
<rect x="805" y="361" width="1" height="1"/>
<rect x="808" y="361" width="1" height="1"/>
<rect x="811" y="361" width="1" height="1"/>
<rect x="814" y="361" width="1" height="1"/>
<rect x="817" y="361" width="1" height="1"/>
<rect x="820" y="361" width="1" height="1"/>
<rect x="823" y="361" width="1" height="1"/>
<rect x="826" y="361" width="1" height="1"/>
<rect x="829" y="361" width="1" height="1"/>
<rect x="832" y="361" width="1" height="1"/>
<rect x="835" y="361" width="1" height="1"/>
<rect x="838" y="361" width="1" height="1"/>
<rect x="841" y="361" width="1" height="1"/>
<rect x="844" y="361" width="1" height="1"/>
<rect x="847" y="361" width="1" height="1"/>
<rect x="850" y="361" width="1" height="1"/>
<rect x="853" y="361" width="1" height="1"/>
<rect x="856" y="361" width="1" height="1"/>
</g>
</svg>
<div class="t" style="left:866.97px;top:-1.26px;font-size:13.60px;line-height:20.40px;color:#b2b5be;transform:scale(0.9863,1.0);">850.00</div>
<div class="t" style="left:866.97px;top:32.74px;font-size:13.60px;line-height:20.40px;color:#b2b5be;transform:scale(0.9863,1.0);">800.00</div>
<div class="t" style="left:866.73px;top:67.74px;font-size:13.60px;line-height:20.40px;color:#b2b5be;transform:scale(0.9922,1.0);">750.00</div>
<div class="t" style="left:866.73px;top:101.74px;font-size:13.60px;line-height:20.40px;color:#b2b5be;transform:scale(0.9922,1.0);">700.00</div>
<div class="t" style="left:866.73px;top:136.74px;font-size:13.60px;line-height:20.40px;color:#b2b5be;transform:scale(0.9922,1.0);">650.00</div>
<div class="t" style="left:866.73px;top:170.74px;font-size:13.60px;line-height:20.40px;color:#b2b5be;transform:scale(0.9922,1.0);">600.00</div>
<div class="t" style="left:866.73px;top:205.74px;font-size:13.60px;line-height:20.40px;color:#b2b5be;transform:scale(0.9922,1.0);">550.00</div>
<div class="t" style="left:866.73px;top:239.74px;font-size:13.60px;line-height:20.40px;color:#b2b5be;transform:scale(0.9922,1.0);">500.00</div>
<div class="t" style="left:867.21px;top:275.04px;font-size:13.60px;line-height:20.40px;color:#b2b5be;transform:scale(0.9804,1.0);">450.00</div>
<div class="t" style="left:867.21px;top:308.74px;font-size:13.60px;line-height:20.40px;color:#b2b5be;transform:scale(0.9804,1.0);">400.00</div>
<div class="t" style="left:866.97px;top:343.74px;font-size:13.60px;line-height:20.40px;color:#b2b5be;transform:scale(0.9863,1.0);">350.00</div>
<div class="t" style="left:866.97px;top:378.74px;font-size:13.60px;line-height:20.40px;color:#b2b5be;transform:scale(0.9863,1.0);">300.00</div>
<div class="t" style="left:866.73px;top:412.74px;font-size:13.60px;line-height:20.40px;color:#b2b5be;transform:scale(0.9922,1.0);">250.00</div>
<div class="t" style="left:866.91px;top:449.74px;font-size:13.60px;line-height:20.40px;color:#b2b5be;transform:scale(0.9894,1.0);">400&#8202;M</div>
<div style="position:absolute;left:858px;top:352px;width:55px;height:19px;background:#089981;border-radius:0 2px 2px 0;"></div>
<div style="position:absolute;left:858px;top:478px;width:68px;height:19px;background:#22ab94;border-radius:0 2px 2px 0;"></div>
<div style="position:absolute;left:14px;top:445px;width:38px;height:38px;border-radius:50%;background:rgba(21,25,36,.92);border:1px solid #434752;box-sizing:border-box"></div>
<svg style="position:absolute;left:22.8px;top:458.7px" width="21.6" height="16.8" viewBox="0 0 36 28"><path d="M14 22H7V11H0V4h14v18zM28 22h-8l7.5-18h8L28 22z" fill="#8b8e98"/><circle cx="20" cy="8" r="4" fill="#8b8e98"/></svg>
<svg style="position:absolute;left:0;top:0" width="931" height="541" viewBox="0 0 931 541" fill="none" stroke="#c1c4cd" stroke-width="1.2"><path d="M890.6 513.4L894.5 506.6H902.4L906.5 513.4L902.4 520.2H894.5Z"/><circle cx="898.5" cy="513.4" r="2.3"/></svg>
<div class="t" style="left:9.50px;top:6.99px;font-size:15.50px;line-height:23.25px;color:#d1d4dc;transform:scale(0.9032,1.0);">O</div>
<div class="t" style="left:21.45px;top:6.99px;font-size:15.50px;line-height:23.25px;color:#089981;transform:scale(0.9086,1.0);">321.28</div>
<div class="t" style="left:70.76px;top:6.99px;font-size:15.50px;line-height:23.25px;color:#d1d4dc;transform:scale(1.0023,1.0);">H</div>
<div class="t" style="left:82.65px;top:6.99px;font-size:15.50px;line-height:23.25px;color:#089981;transform:scale(0.9086,1.0);">338.22</div>
<div class="t" style="left:132.26px;top:6.99px;font-size:15.50px;line-height:23.25px;color:#d1d4dc;transform:scale(0.9333,1.0);">L</div>
<div class="t" style="left:141.45px;top:6.99px;font-size:15.50px;line-height:23.25px;color:#089981;transform:scale(0.9086,1.0);">321.26</div>
<div class="t" style="left:191.23px;top:6.99px;font-size:15.50px;line-height:23.25px;color:#d1d4dc;transform:scale(0.8671,1.0);">C</div>
<div class="t" style="left:202.25px;top:6.99px;font-size:15.50px;line-height:23.25px;color:#089981;transform:scale(0.9043,1.0);">337.75</div>
<div class="t" style="left:252.68px;top:6.99px;font-size:15.50px;line-height:23.25px;color:#089981;transform:scale(0.8801,1.0);">16.41</div>
<div class="t" style="left:292.91px;top:6.99px;font-size:15.50px;line-height:23.25px;color:#089981;transform:scale(0.8883,1.0);">(+5.11%)</div>
<div class="t" style="left:867.97px;top:352.74px;font-size:13.60px;line-height:20.40px;color:#ffffff;transform:scale(0.9838,1.0);">337.75</div>
<div class="t" style="left:867.97px;top:478.74px;font-size:13.60px;line-height:20.40px;color:#ffffff;transform:scale(0.9894,1.0);">89.195&#8202;M</div>
<div class="t" style="left:-6.00px;top:503.64px;font-size:13.60px;line-height:20.40px;color:#b2b5be;letter-spacing:-0.6px;transform:scale(0.9302,1.0);">Nov</div>
<div class="t" style="left:92.16px;top:503.64px;font-size:13.60px;line-height:20.40px;color:#b2b5be;transform:scale(0.9118,1.0);">15</div>
<div class="t" style="left:195.49px;top:503.64px;font-size:13.60px;line-height:20.40px;color:#b2b5be;transform:scale(0.9519,1.0);">Dec</div>
<div class="t" style="left:294.79px;top:503.64px;font-size:13.60px;line-height:20.40px;color:#b2b5be;transform:scale(0.8824,1.0);">15</div>
<div class="t" style="left:401.26px;top:503.64px;font-size:13.60px;line-height:20.40px;color:#b2b5be;font-weight:700;transform:scale(1.0107,1.0);">2026</div>
<div class="t" style="left:504.29px;top:503.64px;font-size:13.60px;line-height:20.40px;color:#b2b5be;transform:scale(0.8824,1.0);">15</div>
<div class="t" style="left:613.95px;top:503.64px;font-size:13.60px;line-height:20.40px;color:#b2b5be;transform:scale(0.9855,1.0);">Feb</div>
<div class="t" style="left:712.86px;top:503.64px;font-size:13.60px;line-height:20.40px;color:#b2b5be;transform:scale(0.9118,1.0);">15</div>
<div class="t" style="left:802.47px;top:503.64px;font-size:13.60px;line-height:20.40px;color:#b2b5be;transform:scale(0.9683,1.0);">Mar</div>
<div class="t" style="left:12.00px;top:448.19px;font-size:15.50px;line-height:23.25px;color:#d1d4dc;transform:scale(0.9101,1.0);">Volume</div>
<div class="t" style="left:68.13px;top:448.19px;font-size:15.50px;line-height:23.25px;color:#22ab94;transform:scale(0.9350,1.0);">89.195&#8202;M</div>
</body></html>
